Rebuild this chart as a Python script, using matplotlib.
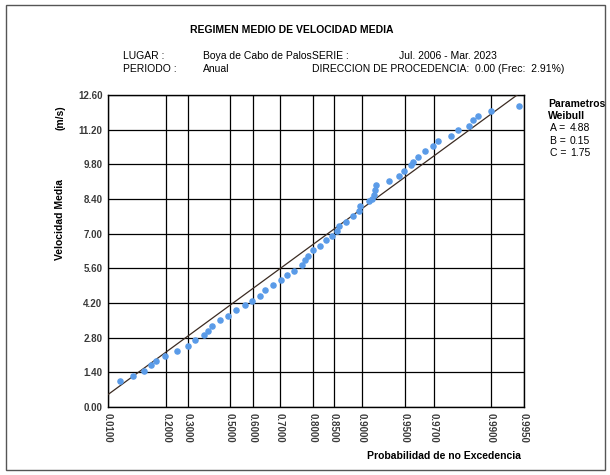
import numpy as np
import matplotlib
matplotlib.use("Agg")
import matplotlib.pyplot as plt
from matplotlib.patches import Rectangle

plt.rcParams['font.family'] = ['Liberation Sans', 'DejaVu Sans']

# parametros Weibull
A_par = 4.88
B_par = 0.15
C_par = 1.75

# probabilidades empiricas de no excedencia y velocidades (m/s)
prob = [0.0344, 0.0703, 0.1087, 0.1345, 0.1551, 0.1968, 0.2501, 0.3021, 0.3342,
        0.3789, 0.3981, 0.4172, 0.4533, 0.4918, 0.5293, 0.5683, 0.5948, 0.6270,
        0.6464, 0.6750, 0.7043, 0.7254, 0.7475, 0.7694, 0.7780, 0.7863, 0.8013,
        0.8180, 0.8322, 0.8462, 0.8552, 0.8599, 0.8733, 0.8850, 0.8949, 0.8970,
        0.9107, 0.9139, 0.9169, 0.9186, 0.9191, 0.9346, 0.9446, 0.9491, 0.9548,
        0.9566, 0.9602, 0.9648, 0.9696, 0.9722, 0.9779, 0.9809, 0.9846, 0.9855,
        0.9871, 0.9899, 0.9944]
vel = [1.07, 1.26, 1.46, 1.68, 1.87, 2.04, 2.28, 2.47, 2.69, 2.92, 3.08, 3.29,
       3.51, 3.68, 3.90, 4.10, 4.30, 4.50, 4.71, 4.92, 5.12, 5.32, 5.51, 5.73,
       5.92, 6.10, 6.35, 6.52, 6.75, 6.91, 7.09, 7.31, 7.49, 7.70, 7.91, 8.13,
       8.31, 8.40, 8.56, 8.77, 8.97, 9.13, 9.33, 9.53, 9.77, 9.90, 10.11, 10.34,
       10.54, 10.76, 10.96, 11.19, 11.36, 11.59, 11.76, 11.95, 12.17]

x_ticks = [0.01, 0.2, 0.3, 0.5, 0.6, 0.7, 0.8, 0.85, 0.9, 0.95, 0.97, 0.99, 0.995]
y_ticks = [0.0, 1.4, 2.8, 4.2, 5.6, 7.0, 8.4, 9.8, 11.2, 12.6]


def fwd(p):
    p = np.clip(np.asarray(p, dtype=float), 1e-9, 1 - 1e-9)
    return (-np.log(1 - p)) ** (1.0 / C_par)


def inv(x):
    x = np.clip(np.asarray(x, dtype=float), 0, None)
    return 1 - np.exp(-x ** C_par)


fig = plt.figure(figsize=(6.1, 4.75), dpi=100)
ax = fig.add_axes([108 / 610, 1 - 407 / 475, 416 / 610, 312 / 475])
ax.set_xscale('function', functions=(fwd, inv))

# recta de ajuste
p_line = np.linspace(0.01, 0.995, 300)
ax.plot(p_line, B_par + A_par * fwd(p_line), color='#3b2b22', lw=0.9, zorder=3)
ax.plot(prob, vel, 'o', color='#5a9be8', ms=3.7, mec='#5a9be8', zorder=4)

ax.set_xlim(0.01, 0.995)
ax.set_ylim(0, 12.6)
ax.set_xticks(x_ticks)
ax.set_xticklabels([f'{t:.4f}' for t in x_ticks], rotation=270, fontsize=7,
                   color='#3a3a3a', fontweight='bold')
ax.set_yticks(y_ticks)
ax.set_yticklabels([f'{t:.2f}' for t in y_ticks], fontsize=7, color='#3a3a3a',
                   fontweight='bold')
ax.minorticks_off()
ax.tick_params(length=0, pad=4)
ax.grid(True, color='black', lw=0.9)
for s in ax.spines.values():
    s.set_color('black')
    s.set_linewidth(1.0)

# textos
fig.text(190 / 610, 1 - 30 / 475, 'REGIMEN MEDIO DE VELOCIDAD MEDIA', fontsize=7.5,
         fontweight='bold', va='center', ha='left')
hdr = dict(fontsize=7.5, va='center', ha='left')
fig.text(123 / 610, 1 - 56 / 475, 'LUGAR :', **hdr)
fig.text(203 / 610, 1 - 56 / 475, 'Boya de Cabo de Palos', **hdr)
fig.text(312 / 610, 1 - 56 / 475, 'SERIE :', **hdr)
fig.text(399 / 610, 1 - 56 / 475, 'Jul. 2006 - Mar. 2023', **hdr)
fig.text(123 / 610, 1 - 69 / 475, 'PERIODO :', **hdr)
fig.text(203 / 610, 1 - 69 / 475, 'Anual', **hdr)
fig.text(312 / 610, 1 - 69 / 475, 'DIRECCION DE PROCEDENCIA:  0.00 (Frec:  2.91%)', **hdr)

fig.text(60 / 610, 1 - 220 / 475, 'Velocidad Media', rotation=90, fontsize=7.5,
         fontweight='bold', va='center', ha='center')
fig.text(60 / 610, 1 - 118 / 475, '(m/s)', rotation=90, fontsize=7.5,
         fontweight='bold', va='center', ha='center')
fig.text(521 / 610, 1 - 456 / 475, 'Probabilidad de no Excedencia', fontsize=7.5,
         fontweight='bold', va='center', ha='right')

fig.text(548 / 610, 1 - 104 / 475, 'Parametros', fontsize=7.5, fontweight='bold',
         va='center', ha='left')
fig.text(548 / 610, 1 - 116 / 475, 'Weibull', fontsize=7.5, fontweight='bold',
         va='center', ha='left')
for i, (nm, val) in enumerate([('A', A_par), ('B', B_par), ('C', C_par)]):
    yy = 1 - (128 + 12.5 * i) / 475
    fig.text(550 / 610, yy, f'{nm} =', fontsize=7.5, va='center', ha='left')
    fig.text(570 / 610, yy, f'{val:.2f}', fontsize=7.5, va='center', ha='left')

# marco exterior
fig.patches.append(Rectangle((6 / 610, 1 - 470 / 475), 599 / 610, 465 / 475,
                             transform=fig.transFigure, fill=False,
                             edgecolor='#555555', lw=1.0))

fig.savefig('out.png', dpi=100)
